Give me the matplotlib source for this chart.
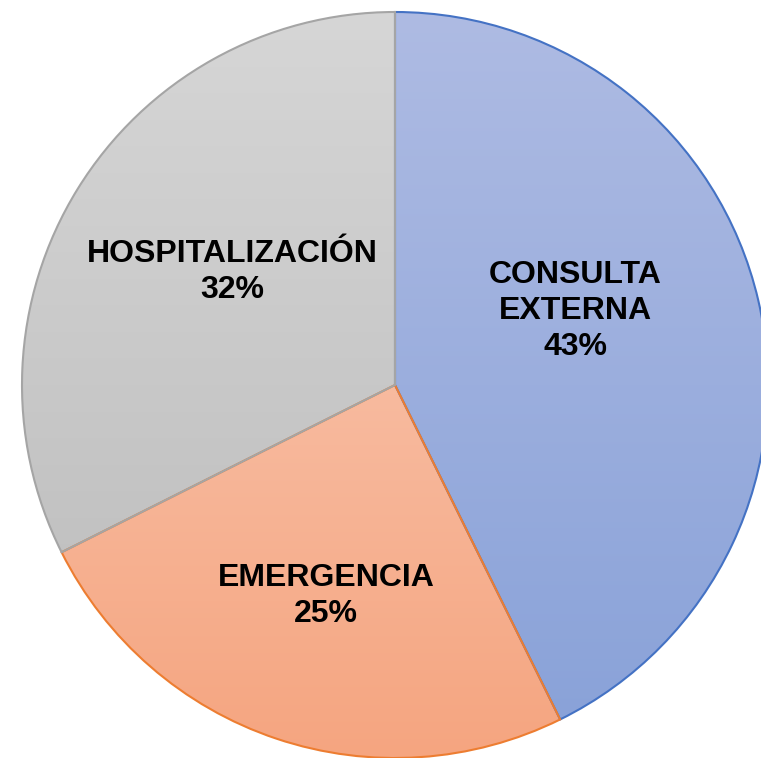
import numpy as np
import matplotlib
matplotlib.use("Agg")
import matplotlib.pyplot as plt
from matplotlib.colors import LinearSegmentedColormap

# datos
categorias = ["CONSULTA\nEXTERNA", "EMERGENCIA", "HOSPITALIZACIÓN"]
valores = [42.7, 24.9, 32.4]
etiquetas_pct = ["43%", "25%", "32%"]

# colores (arriba, abajo) y borde
grad_top = ["#AEBBE3", "#FAD0BE", "#D6D6D6"]
grad_bot = ["#88A1D8", "#F5A580", "#BABABA"]
bordes = ["#4472C4", "#ED7D31", "#A5A5A5"]

W, H = 761, 758
fig = plt.figure(figsize=(W / 100, H / 100), dpi=100)
ax = fig.add_axes([0, 0, 1, 1])

cx, cy, R = 395, 373, 373
wedges, _ = ax.pie(valores, startangle=90, counterclock=False,
                   center=(cx, cy), radius=R, frame=True,
                   wedgeprops=dict(linewidth=1.5))

grad = np.linspace(0, 1, 256).reshape(-1, 1)
for i, w in enumerate(wedges):
    w.set_facecolor("none")
    w.set_edgecolor(bordes[i])
    w.set_zorder(3 + i)
    cmap = LinearSegmentedColormap.from_list("g%d" % i, [grad_top[i], grad_bot[i]])
    im = ax.imshow(grad, cmap=cmap, extent=(cx - R, cx + R, cy - R, cy + R),
                   origin="upper", aspect="auto", zorder=2, interpolation="bilinear")
    im.set_clip_path(w)

ax.set_xlim(0, W)
ax.set_ylim(0, H)
ax.set_aspect("auto")
ax.axis("off")

# posiciones de las etiquetas (px de la imagen)
pos = [(575, 311), (326, 596), (232, 272)]
for i, (x, y) in enumerate(pos):
    ax.text(x, H - y, categorias[i] + "\n" + etiquetas_pct[i],
            ha="center", va="center", fontsize=23, fontweight="bold",
            family="Liberation Sans", color="black", zorder=10,
            linespacing=1.28)

fig.savefig("out.png", dpi=100)
